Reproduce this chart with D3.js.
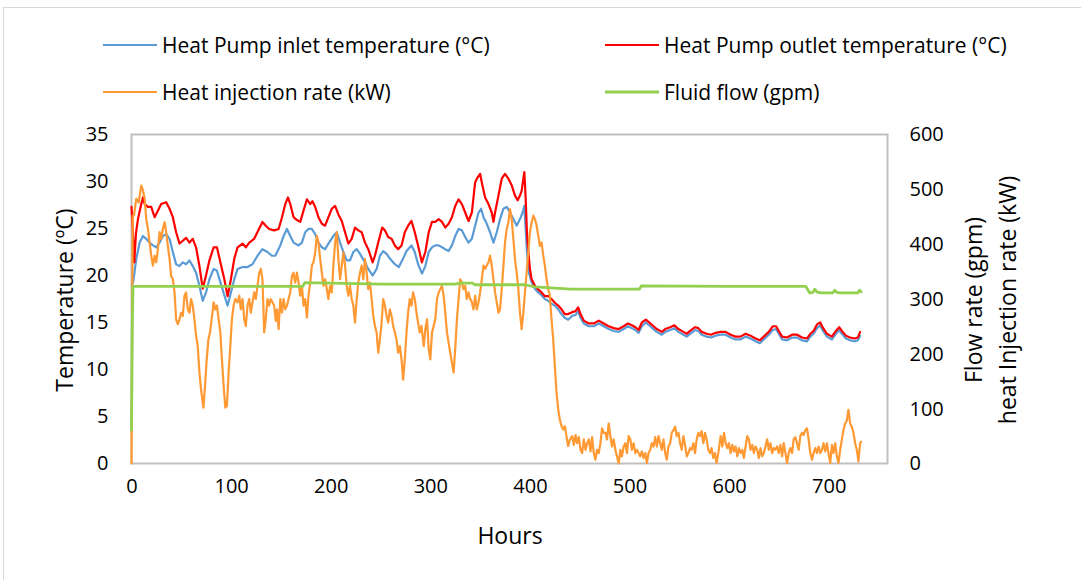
<!DOCTYPE html>
<html><head><meta charset="utf-8">
<script src="https://cdn.jsdelivr.net/npm/d3@7"></script>
<style>body{margin:0;background:#fff}svg{display:block}</style>
</head><body><svg id="c" width="1081" height="580"></svg>
<script>
const xTicks=[0,100,200,300,400,500,600,700];
const tempTicks=[0,5,10,15,20,25,30,35];
const rightTicks=[0,100,200,300,400,500,600];
const seriesNames=["Heat Pump inlet temperature (°C)","Heat Pump outlet temperature (°C)","Heat injection rate (kW)","Fluid flow (gpm)"];

const outletHours=[0,1,2.8,4.5,6.5,9.8,11.5,13.2,16.5,19.8,23.2,26.5,29.8,34.8,38.2,41.5,44.8,48.2,51.5,54.8,58.2,61.5,64.8,68.2,71.5,74.8,78.2,82.5,85.8,89.2,93.2,96.5,99.8,103.2,106.5,111.5,114.8,118.2,123.2,128.2,131.5,134.8,138.2,143.2,147.7,151.1,154.4,157.1,159.4,162.7,166.1,169.4,172.7,176.1,179.4,181.7,184.4,187.7,191.1,194.4,197.7,201.1,204.4,207.7,211.1,214.4,217.7,221.1,224.4,227.7,231.1,234.4,237.7,242.1,244.4,247.7,251.7,254.4,257.7,261.1,264.4,267.7,271.1,274.4,277.7,281.1,284.4,287.7,291.5,295,298.4,301.7,305,308.4,311.7,315,318.4,321.7,325,328.4,331.7,335,338.4,341.7,345,346.7,350,351.7,355,358.4,361.7,363.4,365,368.4,371.7,375,378.4,381.7,385,387.7,390,391.7,394.4,395.7,397,398.4,400,401.7,405,408.4,411.7,415,418.4,421.7,425,428.4,431.7,435,438.4,442.4,445.8,448.4,450.8,454.1,459.1,464.1,469.1,474.1,479.1,484.1,489.1,494.1,498.4,502.4,505.8,509.1,512.4,516.4,520.8,524.1,527.4,532.4,535.8,540.8,545.1,549.1,554.1,557.4,560.8,565.8,569.1,572.4,577.4,581.8,586.5,591.5,596.5,601.5,606.5,611.5,616.5,621.5,626.5,630.8,634.8,639.8,643.8,647.2,649.8,653.2,658.2,663.2,668.2,673.2,678.2,681.5,684.8,688.2,691.5,693.8,698.2,703.2,707.2,710.5,713.2,717.2,721.5,725.8,729.2,731.5];
const outletTemp=[27.3,25.5,21.4,24.5,26.0,27.6,28.3,27.6,27.3,27.3,26.2,26.9,27.6,27.8,27.1,26.2,24.6,23.4,23.7,24.0,23.5,23.9,23.0,21.0,18.6,20.0,21.6,23.0,23.0,21.4,19.6,17.8,19.6,21.8,23.0,23.4,23.0,23.5,23.9,25.0,25.7,25.3,24.95,24.8,24.95,26.2,27.6,28.3,27.6,26.2,25.9,25.7,26.9,28.1,27.6,27.9,27.3,26.2,25.5,25.3,26.2,27.1,27.4,26.5,25.8,24.6,23.4,23.9,25.1,24.8,24.6,23.5,22.8,21.4,22.1,23.5,25.1,24.8,24.1,23.9,23.2,22.8,23.2,24.6,25.3,25.8,24.6,23.2,21.4,22.5,24.6,25.7,25.7,26.0,25.7,25.1,25.5,26.2,27.4,28.1,27.6,26.7,25.8,26.7,29.9,30.3,30.8,29.9,28.3,27.6,26.7,25.7,26.7,28.5,30.3,30.8,30.3,29.6,28.5,28.0,28.5,29.0,31.0,28.3,24.6,22.5,20.7,19.6,18.9,18.5,18.2,17.8,17.8,17.5,17.1,16.8,16.4,15.9,15.9,16.1,16.2,16.6,15.9,15.2,14.9,14.9,15.2,14.9,14.6,14.4,14.3,14.6,14.9,14.7,14.5,14.2,15.0,15.3,14.9,14.6,14.3,14.0,14.3,14.5,14.7,14.3,14.0,13.8,14.1,14.5,14.4,14.0,13.8,13.7,13.9,14.0,14.0,13.7,13.5,13.5,13.8,13.6,13.3,13.1,13.5,14.0,14.6,14.6,14.1,13.5,13.4,13.7,13.7,13.4,13.3,13.8,14.1,14.8,15.0,14.5,13.8,13.5,14.1,14.5,14.1,13.6,13.4,13.3,13.4,14.0];

const inletHours=[0.5,2,4.8,8.2,11.5,14.8,18.2,21.5,24.8,28.2,31.5,34.8,38.2,41.5,44.8,48.2,51.5,54.8,58.2,61.5,64.8,68.2,71.5,74.8,78.2,82.5,85.8,89.2,93.2,96.5,99.8,103.2,106.5,111.5,116.5,121.5,126.5,131.5,136.5,141,144.4,149.4,152.7,156.1,159.4,162.7,167.7,171.1,174.4,177.7,181.1,184.4,187.7,191.1,194.4,197.7,202.7,206.1,209.4,212.7,216.1,219.4,222.7,226.1,229.4,234.4,237.7,242.1,246.1,249.4,252.7,256.1,259.4,264.4,268.4,272.7,276.1,281.1,284.4,287.7,291.7,295,298.4,301.7,305,308.4,311.7,315,318.4,321.7,325,328.4,331.7,335,338.4,341.7,345,348.4,351,353.4,356.7,360,363.4,366.7,370,373.4,376.7,380,383.4,386.7,390,392.7,394.4,395.7,397,399,401.7,405,408.4,411.7,415,418.4,421.7,425,428.4,431.7,435,438.4,442.4,445.8,448.4,450.8,454.1,459.1,464.1,469.1,474.1,479.1,484.1,489.1,494.1,498.4,502.4,505.8,509.1,512.4,516.4,520.8,524.1,527.4,532.4,535.8,540.8,545.1,549.1,554.1,557.4,560.8,565.8,569.1,572.4,577.4,581.8,586.5,591.5,596.5,601.5,606.5,611.5,616.5,621.5,626.5,630.8,634.8,639.8,643.8,647.2,649.8,653.2,658.2,663.2,668.2,673.2,678.2,681.5,684.8,688.2,691.5,693.8,698.2,703.2,707.2,710.5,713.2,717.2,721.5,725.8,729.2,731.5];
const inletTemp=[18.9,19.5,21.8,23.5,24.2,23.9,23.5,23.2,23.0,23.5,24.2,24.4,23.9,22.5,21.2,21.0,21.4,21.2,21.6,21.0,20.3,18.9,17.3,18.2,19.6,20.7,20.5,19.3,17.9,16.8,18.2,19.6,20.7,20.9,20.9,21.2,22.1,22.8,22.5,22.1,22.1,23.2,24.2,24.95,24.2,23.5,23.2,23.5,24.6,24.95,24.95,24.4,23.5,23.0,22.8,23.4,24.2,24.6,23.5,22.5,21.6,21.6,22.5,22.8,22.3,21.4,20.7,20.0,20.7,22.1,22.6,22.3,21.8,21.2,20.9,21.8,22.6,23.2,22.5,21.2,20.2,21.0,22.5,23.0,23.2,23.2,23.0,22.8,22.6,23.2,24.2,24.95,24.8,24.1,23.5,23.9,25.3,26.7,27.1,26.2,25.5,24.6,23.5,24.6,26.0,27.1,27.3,26.7,26.0,25.3,26.0,26.7,27.4,24.95,22.5,20.3,19.3,18.6,18.2,17.9,17.5,17.3,17.0,16.8,16.4,15.9,15.5,15.3,15.7,15.8,16.2,15.5,14.9,14.6,14.6,14.9,14.6,14.3,14.1,14.0,14.3,14.6,14.4,14.2,13.9,14.6,15.0,14.6,14.3,14.0,13.7,14.0,14.2,14.4,14.0,13.7,13.5,13.8,14.2,14.1,13.7,13.5,13.4,13.6,13.7,13.7,13.4,13.2,13.2,13.5,13.3,13.0,12.8,13.2,13.7,14.2,14.3,13.8,13.2,13.1,13.4,13.4,13.1,13.0,13.5,13.8,14.4,14.7,14.2,13.5,13.2,13.8,14.2,13.8,13.3,13.1,13.0,13.1,13.6];

const heatHours=[0,0.5,1.2,2.5,4.8,7.2,9.8,11.5,13.2,14.8,16.5,18.2,19.8,21.5,23.2,24.8,26.5,28.2,29.8,31.5,33.2,34.8,36.5,38.2,39.8,41.5,43.2,44.8,46.5,48.2,49.8,51.5,53.2,54.8,56.5,58.2,59.8,61.5,63.2,64.8,66.5,68.2,69.8,72.2,73.8,75.5,77.2,78.8,80.5,82.5,84.2,85.8,87.5,89.2,90.8,92.5,94.2,95.8,97.5,99.2,100.8,102.5,104.2,106.5,108.2,109.8,111.5,113.2,114.8,116.5,118.2,119.8,121.5,123.2,124.8,126.5,128.2,129.8,131.5,133.2,134.8,136.5,138.2,139.8,141.5,143.2,144.8,146.1,147.7,149.4,151.1,152.7,154.4,156.1,157.7,159.4,161.1,162.7,164.4,166.1,167.7,169.4,171.1,172.7,174.4,176.1,177.7,179.4,181.1,182.7,184.4,186.1,187.7,189.4,191.1,192.7,194.4,196.1,197.7,199.4,201.1,202.7,204.4,206.1,207.7,209.4,211.1,212.7,214.4,216.1,217.7,219.4,221.1,222.7,224.4,226.1,227.7,229.4,231.1,232.7,234.4,236.1,237.7,239.4,241.1,242.7,244.4,246.1,247.7,249.4,251.1,252.7,254.4,256.1,257.7,259.4,261.1,262.7,264.4,266.1,267.7,269.4,271.1,272.7,274.4,276.1,277.7,279.4,281.1,282.7,284.4,286.1,287.7,289.4,291.1,292.7,293.4,295,296.7,298.4,300,301.7,303.4,305,306.7,308.4,310,311.7,313.4,315,316.7,318.4,320,321.7,323.4,325,326.7,328.4,330,331.7,333.4,335,336.7,338.4,340,341.7,343.4,345,346.7,348.4,350,351.7,353.4,355,356.7,358.4,360,361.7,363.4,365,366.7,368.4,370,371.7,373.4,375,376.7,378.4,380,381.7,383.4,385,386.7,388.4,390,391.7,393.4,395,396.7,398.4,400,401.7,403.4,405,406.7,408.4,410,411.7,413.4,415,416.7,418.4,420,421.7,423.4,425,426.7,428.4,430,431.7,433.4,435,436.7,438.4,440,442.4,444.1,445.8,447.4,449.1,450.8,452.4,454.1,455.8,457.4,459.1,460.8,462.4,464.1,465.8,467.4,469.1,470.8,472.4,474.1,475.8,477.4,479.1,480.8,482.4,484.1,485.8,487.4,489.1,490.8,492.4,494.1,495.8,497.4,499.1,500.8,502.4,504.1,505.8,507.4,509.1,510.8,512.4,514.1,515.8,517.4,519.1,520.8,522.4,524.1,525.8,527.4,529.1,530.8,532.4,534.1,535.8,537.4,539.1,540.8,542.4,544.1,545.8,547.4,549.1,550.8,552.4,554.1,555.8,557.4,559.1,560.8,562.4,564.1,565.8,567.4,569.1,570.8,572.4,574.1,575.8,577.4,579.1,580.8,582.4,584.1,585.8,587.4,589.1,591.5,593.2,594.8,596.5,598.2,599.8,601.5,603.2,604.8,606.5,608.2,609.8,611.5,613.2,614.8,616.5,618.2,619.8,621.5,623.2,624.8,626.5,628.2,629.8,631.5,633.2,634.8,636.5,638.2,639.8,641.5,643.2,644.8,646.5,648.2,649.8,651.5,653.2,654.8,656.5,658.2,659.8,661.5,663.2,664.8,666.5,668.2,669.8,671.5,673.2,674.8,676.5,678.2,679.8,681.5,683.2,684.8,686.5,688.2,689.8,691.5,693.2,694.8,696.5,698.2,699.8,701.5,703.2,704.8,706.5,708.2,709.8,711.5,713.2,714.8,716.5,718.2,719.8,721.5,723.2,724.8,726.5,728.2,729.8,731.5,732.5];
const heatRate=[0,200,452,452,483,476,507,498,483,446,428,403,379,361,379,367,391,422,409,428,440,422,397,373,342,336,312,263,254,263,275,269,306,312,281,275,300,288,263,233,214,166,135,102,141,190,226,239,263,294,281,288,263,239,190,141,102,105,166,214,263,288,300,294,306,281,300,263,251,288,300,275,294,312,300,324,348,355,336,239,263,300,288,300,294,288,260,281,245,300,275,300,281,288,300,312,342,348,330,348,330,306,324,288,300,266,306,330,361,367,385,415,403,373,348,324,336,318,300,324,312,361,403,422,373,336,361,385,361,324,306,324,300,288,257,300,330,348,361,336,373,348,318,330,300,269,251,239,202,226,257,300,288,269,257,281,269,251,239,226,202,214,190,153,190,239,275,300,288,312,300,275,257,239,251,226,214,245,263,208,190,239,251,263,300,312,318,324,306,275,239,220,202,184,166,208,263,300,336,330,318,324,300,312,300,294,281,306,281,294,312,336,361,355,361,367,379,361,336,312,294,275,281,318,361,403,428,440,464,446,409,373,348,318,275,245,275,312,348,385,422,440,452,446,434,415,397,403,379,361,336,318,306,263,226,178,129,99,80,68,62,68,50,32,43,50,34,52,37,48,25,19,44,25,37,44,22,48,19,7,25,19,37,64,56,56,44,73,50,31,44,25,13,0,25,13,31,37,19,50,44,25,37,19,25,19,13,22,10,19,1,19,25,37,31,48,31,50,37,25,44,19,7,31,37,56,61,67,50,56,37,25,50,34,13,19,28,25,37,19,44,56,50,59,37,56,44,25,19,28,10,19,1,19,50,31,56,37,28,37,19,34,22,31,13,28,19,25,10,31,50,44,25,34,19,31,25,10,28,13,19,31,44,25,37,19,28,25,31,19,34,13,37,19,1,19,28,19,44,48,37,25,50,56,52,61,64,44,19,7,19,28,19,31,19,25,37,22,37,19,1,34,19,37,13,1,25,44,61,73,79,98,73,67,56,37,25,4,37,40];

const flowHours=[0,0.8,1.5,100,172,174,200,250,290,325,330,342,345,395,405,425,441,510,512,600,677,679,681,684,686,688,692,704,706,708,712,729,731,732.5];
const flowRate=[61,250,323,323,323,330,329,327,327,327,329,329,326,326,322,320,318,318,324,323,323,317,311,312,318,313,311,311,316,312,311,311,316,313];

const svg=d3.select("#c");
const W=1081,H=580;
const L=131.5,R=887.5,T=134.5,B=463.5;
const x=d3.scaleLinear().domain([0,759]).range([L,R]);
const yL=d3.scaleLinear().domain([0,35]).range([B,T]);
const yR=d3.scaleLinear().domain([0,600]).range([B,T]);
const FONT="'Open Sans', sans-serif";

svg.append("rect").attr("x",0).attr("y",0).attr("width",W).attr("height",H).attr("fill","#fff");
svg.append("rect").attr("x",3.5).attr("y",7.5).attr("width",1100).attr("height",600)
  .attr("fill","none").attr("stroke","#d9d9d9").attr("stroke-width",1);
svg.append("rect").attr("x",L).attr("y",T).attr("width",R-L).attr("height",B-T)
  .attr("fill","none").attr("stroke","#c0c0c0").attr("stroke-width",2);

function styleAxis(g,size){
  g.select(".domain").remove();
  g.selectAll("text").attr("font-family",FONT).attr("font-size",size).attr("fill","#000");
}
svg.append("g").attr("transform",`translate(0,${B})`)
  .call(d3.axisBottom(x).tickValues(xTicks).tickSize(0).tickPadding(15).tickFormat(d3.format("d")))
  .call(g=>styleAxis(g,20));
svg.append("g").attr("transform",`translate(${L},0)`)
  .call(d3.axisLeft(yL).tickValues(tempTicks).tickSize(0).tickPadding(23).tickFormat(d3.format("d")))
  .call(g=>styleAxis(g,20));
svg.append("g").attr("transform",`translate(${R},0)`)
  .call(d3.axisRight(yR).tickValues(rightTicks).tickSize(0).tickPadding(22).tickFormat(d3.format("d")))
  .call(g=>styleAxis(g,20));

const title=(txt,tx,ty,rot,size)=>svg.append("text").attr("transform",`translate(${tx},${ty}) rotate(${rot})`)
  .attr("text-anchor","middle").attr("dominant-baseline","central").attr("font-family",FONT)
  .attr("font-size",size).attr("fill","#000").text(txt);
title("Hours",510,535,0,23);
title("Temperature (ºC)",64,300,-90,23);
title("Flow rate (gpm)",973,300,-90,23);
title("heat Injection rate (kW)",1007,300,-90,23);

const plot=svg.append("g");
function drawLine(hours,vals,ys,color,w){
  const pts=hours.map((h,i)=>[h,vals[i]]);
  plot.append("path").datum(pts).attr("fill","none").attr("stroke",color).attr("stroke-width",w)
    .attr("stroke-linejoin","round").attr("stroke-linecap","round")
    .attr("d",d3.line().x(d=>x(d[0])).y(d=>ys(d[1])));
}
const colors=["#5b9bd5","#ff0000","#ff9933","#92d050"];
drawLine(inletHours,inletTemp,yL,colors[0],2.2);
drawLine(outletHours,outletTemp,yL,colors[1],2.2);
drawLine(heatHours,heatRate,yR,colors[2],2.2);
drawLine(flowHours,flowRate,yR,colors[3],2.8);

const legPos=[[103,45],[605,45],[103,92],[605,92]];
seriesNames.forEach((n,i)=>{
  const [lx,ly]=legPos[i];
  svg.append("line").attr("x1",lx).attr("x2",lx+54).attr("y1",ly).attr("y2",ly)
    .attr("stroke",colors[i]).attr("stroke-width",i===3?2.8:2.2);
  svg.append("text").attr("x",lx+59).attr("y",ly).attr("dominant-baseline","central")
    .attr("font-family",FONT).attr("font-size",21).attr("fill","#000").text(n);
});
</script></body></html>
